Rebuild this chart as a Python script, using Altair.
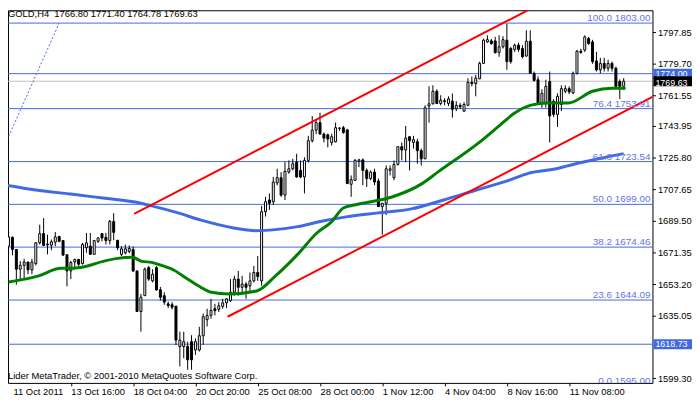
import altair as alt
import pandas as pd

# ---------------- data ----------------
header = "GOLD,H4\u00a0 1766.80 1771.40 1764.78 1769.63"
footer = "Lider MetaTrader, \u00a9 2001-2010 MetaQuotes Software Corp."

o = [1675.0, 1680.1, 1673.1, 1661.8, 1664.0, 1665.9, 1661.4, 1665.0, 1676.9, 1682.2,
     1676.2, 1675.6, 1677.3, 1680.5, 1678.2, 1670.1, 1660.8, 1665.9, 1667.4, 1665.0,
     1674.1, 1675.0, 1670.3, 1677.8, 1682.2, 1680.1, 1678.2, 1689.2, 1678.4, 1670.3,
     1671.2, 1672.0, 1673.1, 1660.8, 1637.5, 1646.6, 1662.7, 1655.1, 1662.7, 1650.0,
     1646.6, 1641.9, 1641.4, 1640.6, 1617.4, 1617.4, 1617.4, 1620.2, 1615.4, 1615.4,
     1623.6, 1632.8, 1635.3, 1639.1, 1638.7, 1640.5, 1642.5, 1643.8, 1648.6, 1656.1,
     1651.4, 1653.3, 1652.3, 1655.1, 1659.9, 1655.1, 1694.8, 1701.5, 1700.5, 1711.3,
     1714.3, 1704.3, 1717.5, 1719.4, 1723.2, 1718.5, 1714.7, 1724.2, 1735.5, 1741.6,
     1745.9, 1739.3, 1738.9, 1734.5, 1734.9, 1742.6, 1743.0, 1741.7, 1710.5, 1712.8,
     1723.7, 1724.5, 1718.5, 1713.8, 1717.5, 1712.4, 1697.7, 1699.6, 1718.5, 1714.3,
     1721.9, 1732.1, 1730.2, 1737.8, 1734.5, 1734.9, 1729.8, 1725.1, 1755.4, 1756.7,
     1763.9, 1756.9, 1758.4, 1756.9, 1758.2, 1753.8, 1755.8, 1752.5, 1755.8, 1769.0,
     1768.3, 1771.1, 1779.9, 1792.2, 1792.8, 1792.8, 1786.2, 1789.4, 1793.2, 1788.4,
     1787.9, 1790.3, 1788.4, 1784.1, 1792.6, 1774.2, 1770.5, 1757.2, 1757.2, 1769.5,
     1758.2, 1750.6, 1756.3, 1763.9, 1765.4, 1762.9, 1774.2, 1786.9, 1787.5, 1794.1,
     1792.2, 1781.3, 1776.2, 1779.9, 1777.1, 1779.9, 1777.1, 1769.5, 1766.80]

h = [1683.9, 1680.5, 1673.1, 1666.5, 1667.8, 1665.9, 1667.8, 1677.3, 1687.3, 1691.1,
     1681.6, 1678.8, 1683.1, 1681.0, 1678.2, 1670.1, 1666.5, 1667.8, 1667.4, 1676.9,
     1682.6, 1682.6, 1678.2, 1680.1, 1682.6, 1682.6, 1690.1, 1693.9, 1678.4, 1675.0,
     1675.9, 1675.4, 1674.8, 1660.8, 1647.6, 1662.7, 1663.6, 1661.8, 1663.6, 1651.6,
     1648.6, 1643.2, 1642.9, 1640.6, 1625.9, 1625.9, 1620.2, 1623.9, 1622.1, 1628.7,
     1636.3, 1639.1, 1644.8, 1641.9, 1642.9, 1644.8, 1645.2, 1656.1, 1658.0, 1660.8,
     1658.0, 1654.4, 1659.9, 1663.6, 1669.3, 1698.1, 1703.3, 1705.3, 1714.7, 1719.4,
     1717.5, 1723.2, 1724.2, 1725.1, 1728.0, 1724.2, 1726.0, 1738.3, 1749.7, 1747.8,
     1751.6, 1740.2, 1739.5, 1739.5, 1745.9, 1743.4, 1744.0, 1742.3, 1715.6, 1725.1,
     1725.1, 1725.3, 1719.6, 1718.5, 1719.4, 1713.8, 1699.6, 1721.3, 1721.3, 1724.2,
     1732.1, 1734.5, 1744.0, 1737.8, 1738.3, 1736.6, 1731.0, 1755.9, 1766.7, 1767.3,
     1765.0, 1761.6, 1759.9, 1761.0, 1762.6, 1758.2, 1757.1, 1757.6, 1771.4, 1772.4,
     1773.3, 1780.9, 1794.1, 1796.0, 1793.9, 1795.1, 1796.0, 1795.5, 1802.6, 1789.4,
     1791.2, 1791.7, 1790.3, 1798.9, 1798.9, 1775.2, 1772.4, 1765.0, 1770.5, 1775.2,
     1759.3, 1762.7, 1767.3, 1767.3, 1766.7, 1775.2, 1787.7, 1788.3, 1796.0, 1795.1,
     1793.4, 1786.5, 1783.1, 1783.1, 1782.0, 1780.9, 1778.0, 1770.7, 1771.40]

l = [1670.3, 1669.7, 1652.9, 1655.1, 1656.1, 1658.9, 1658.9, 1664.0, 1676.0, 1675.0,
     1670.3, 1672.7, 1675.0, 1677.3, 1669.3, 1651.9, 1656.1, 1661.8, 1663.6, 1664.4,
     1671.2, 1670.3, 1670.3, 1676.9, 1677.8, 1676.0, 1676.0, 1678.4, 1672.7, 1669.3,
     1670.3, 1670.9, 1660.1, 1637.2, 1625.9, 1646.6, 1655.1, 1654.2, 1649.5, 1643.8,
     1641.4, 1639.5, 1638.7, 1618.3, 1606.0, 1610.7, 1604.1, 1604.1, 1612.6, 1614.5,
     1618.3, 1628.9, 1633.4, 1635.3, 1637.2, 1639.1, 1639.5, 1642.9, 1646.6, 1646.6,
     1647.6, 1644.8, 1649.5, 1654.2, 1655.1, 1652.3, 1692.0, 1695.8, 1698.6, 1710.0,
     1703.3, 1701.5, 1716.6, 1718.5, 1714.3, 1714.0, 1705.3, 1723.0, 1734.5, 1739.3,
     1739.3, 1734.5, 1731.7, 1732.7, 1734.5, 1741.2, 1739.5, 1710.9, 1703.3, 1712.4,
     1720.4, 1710.0, 1709.0, 1712.8, 1710.0, 1697.7, 1681.6, 1692.9, 1715.6, 1712.8,
     1721.3, 1724.2, 1723.2, 1718.5, 1731.0, 1722.3, 1721.3, 1725.1, 1745.9, 1756.3,
     1756.5, 1755.8, 1755.9, 1755.4, 1748.7, 1752.5, 1753.7, 1751.9, 1755.4, 1766.7,
     1761.0, 1770.7, 1779.6, 1791.7, 1790.5, 1785.6, 1783.7, 1788.4, 1776.2, 1779.7,
     1786.5, 1786.5, 1782.8, 1783.7, 1774.2, 1769.5, 1756.3, 1754.4, 1754.4, 1734.5,
     1749.1, 1743.4, 1752.5, 1762.7, 1762.2, 1762.2, 1773.5, 1785.4, 1786.5, 1790.5,
     1779.7, 1775.2, 1774.1, 1775.2, 1775.2, 1775.2, 1765.7, 1759.4, 1764.78]

c = [1680.3, 1673.1, 1661.8, 1664.0, 1665.9, 1661.4, 1665.9, 1676.9, 1682.2, 1675.4,
     1675.7, 1677.5, 1680.3, 1677.8, 1669.9, 1660.8, 1665.6, 1667.3, 1664.6, 1676.0,
     1676.9, 1670.3, 1678.2, 1679.7, 1679.7, 1678.2, 1689.2, 1682.9, 1674.1, 1673.5,
     1673.5, 1673.7, 1660.8, 1637.5, 1645.7, 1661.8, 1656.1, 1658.9, 1649.9, 1645.7,
     1642.9, 1640.9, 1640.0, 1621.1, 1621.1, 1620.2, 1609.8, 1609.8, 1620.2, 1623.6,
     1634.5, 1635.3, 1638.1, 1638.0, 1640.8, 1642.5, 1644.8, 1648.6, 1656.1, 1651.4,
     1653.3, 1651.4, 1655.1, 1659.9, 1657.6, 1694.8, 1700.5, 1699.6, 1711.8, 1714.3,
     1704.3, 1717.9, 1719.4, 1722.3, 1714.7, 1714.7, 1724.2, 1735.5, 1741.6, 1745.9,
     1739.3, 1737.0, 1736.5, 1737.8, 1743.0, 1742.7, 1740.2, 1710.9, 1713.2, 1724.2,
     1724.5, 1718.5, 1713.8, 1717.5, 1711.8, 1697.7, 1699.6, 1719.4, 1719.4, 1721.9,
     1732.1, 1730.2, 1737.0, 1735.5, 1736.1, 1729.8, 1725.1, 1754.4, 1756.7, 1763.9,
     1756.9, 1758.8, 1758.0, 1759.5, 1753.5, 1755.8, 1755.0, 1756.3, 1769.0, 1768.3,
     1771.4, 1779.9, 1793.2, 1793.5, 1791.3, 1786.0, 1789.4, 1793.5, 1780.9, 1780.9,
     1790.3, 1787.9, 1783.7, 1792.6, 1774.2, 1770.1, 1757.2, 1762.7, 1766.7, 1749.7,
     1750.6, 1761.0, 1765.4, 1765.4, 1763.5, 1774.2, 1786.9, 1786.2, 1795.1, 1791.3,
     1780.9, 1776.2, 1779.9, 1777.1, 1779.9, 1777.1, 1766.7, 1766.7, 1769.63]

green_i = [0, 4.25, 7.5, 13.5, 16, 20, 24.25, 28, 31.75, 34.25, 36.75, 39.25, 42.5, 46,
           49.25, 51.75, 56.75, 63.75, 68.5, 72.5, 74.25, 79.25, 83, 86, 90, 98.5, 106,
           110.5, 120.5, 126, 130, 134.25, 138.5, 143.75, 150, 155, 158.5]
green_v = [1654.4, 1656.1, 1657.8, 1662.3, 1662.3, 1663.5, 1666.3, 1668.0, 1668.6, 1666.3,
           1665.7, 1664.0, 1661.2, 1656.1, 1651.6, 1648.7, 1647.6, 1649.3, 1657.8, 1666.3,
           1670.3, 1682.7, 1689.0, 1696.9, 1699.2, 1703.2, 1710.6, 1717.9, 1733.8, 1744.0,
           1751.4, 1755.9, 1757.1, 1757.1, 1763.9, 1765.6, 1765.6]

blue_i = [-0.25, 7.5, 16, 24.25, 32.5, 36.75, 43.5, 49.25, 57.5, 63.5, 68.5, 74.25, 81,
          86.75, 95, 103.5, 111.75, 120, 128.5, 133.5, 141, 145, 151.75, 158]
blue_v = [1709.9, 1707.1, 1704.9, 1702.6, 1700.3, 1698.1, 1694.1, 1690.1, 1685.6, 1683.9,
          1684.5, 1686.2, 1689.6, 1691.8, 1694.1, 1696.4, 1701.5, 1707.1, 1712.8, 1716.8,
          1719.6, 1721.9, 1725.3, 1728.1]

# channel trend lines (two end points each)
chan_id = ["upper", "upper", "lower", "lower"]
chan_i = [32.25, 136.0, 56.25, 168.0]
chan_v = [1693.5, 1813.4, 1634.5, 1763.7]

# fibonacci base (dotted) line
fbase_i = [-28.5, 13.0]
fbase_v = [1595.0, 1803.0]

fib_values = [1803.00, 1753.91, 1723.54, 1699.00, 1674.46, 1644.09, 1595.00]
fib_text = ["100.0 1803.00", "76.4 1753.91", "61.8 1723.54", "50.0 1699.00",
            "38.2 1674.46", "23.6 1644.09", "0.0 1595.00"]
hlines = [1774.00, 1618.73]
bid = 1769.63

tag_values = [1774.00, 1618.73, 1769.63]
tag_text = ["1774.00", "1618.73", "1769.63"]
tag_color = ["#4169E1", "#4169E1", "#000000"]
tag_shift = [0, 0, 1.5]

y_ticks = [1797.85, 1779.70, 1761.55, 1743.95, 1725.80, 1707.65, 1689.50, 1671.35,
           1653.20, 1635.05, 1599.30]
x_tick_idx = [0, 16, 32, 48, 64, 80, 96, 112, 128, 144]
x_tick_lab = ["11 Oct 2011", "13 Oct 16:00", "18 Oct 04:00", "20 Oct 20:00", "25 Oct 08:00",
              "28 Oct 00:00", "1 Nov 12:00", "4 Nov 04:00", "8 Nov 16:00", "11 Nov 08:00"]

# ---------------- chart ----------------
FONT = "Liberation Sans"
W, H = 652, 377
ROYAL = "#4169E1"

candles = pd.DataFrame({"i": list(range(len(o))), "o": o, "h": h, "l": l, "c": c})
green = pd.DataFrame({"i": green_i, "v": green_v})
blue = pd.DataFrame({"i": blue_i, "v": blue_v})
chan = pd.DataFrame({"id": chan_id, "i": chan_i, "v": chan_v})
fbase = pd.DataFrame({"i": fbase_i, "v": fbase_v})
fibs = pd.DataFrame({"v": fib_values, "t": fib_text})
hl = pd.DataFrame({"v": fib_values + hlines})
bidf = pd.DataFrame({"v": [bid]})
tags = pd.DataFrame({"v": tag_values, "t": tag_text, "col": tag_color, "s": tag_shift})
first_lab = pd.DataFrame({"i": [x_tick_idx[0]], "t": [x_tick_lab[0]]})

xs = alt.Scale(domain=[1.125, 164.125], nice=False, zero=False)
ys = alt.Scale(domain=[1596.54, 1810.37], nice=False, zero=False)

lab_js = "[" + ",".join("'%s'" % s for s in x_tick_lab) + "]"
xaxis = alt.Axis(values=x_tick_idx[1:], labelExpr=lab_js + "[round(datum.value/16)]",
                 title=None, grid=False, domain=False, tickSize=3, tickColor="black",
                 labelAlign="left", labelBaseline="top", labelPadding=1,
                 labelFont=FONT, labelFontSize=9.5, labelColor="black",
                 labelOverlap=False, labelFlush=False, labelBound=False, orient="bottom")
yaxis = alt.Axis(values=y_ticks, format=".2f", title=None, grid=False, domain=False,
                 tickSize=3, tickColor="black", labelPadding=2, labelFont=FONT,
                 labelFontSize=9.5, labelColor="black", labelOverlap=False,
                 labelBaseline="middle", labelFlush=False, labelBound=False, orient="right")


def X(f):
    return alt.X(f, type="quantitative", scale=xs, axis=xaxis)


def Y(f):
    return alt.Y(f, type="quantitative", scale=ys, axis=yaxis)


fib_rules = alt.Chart(hl).mark_rule(color=ROYAL, strokeWidth=1, clip=True).encode(y=Y("v"))
bid_rule = alt.Chart(bidf).mark_rule(color="#C0C0C0", strokeWidth=1, clip=True).encode(y=Y("v"))

fbase_line = alt.Chart(fbase).mark_line(color=ROYAL, strokeWidth=1, strokeDash=[2, 2],
                                        clip=True).encode(x=X("i"), y=Y("v"))

wicks = alt.Chart(candles).mark_rule(color="black", strokeWidth=1, clip=True).encode(
    x=X("i"), y=Y("l"), y2="h")
bodies = alt.Chart(candles).mark_bar(size=2, stroke="black", strokeWidth=1, clip=True).encode(
    x=X("i"), y=Y("o"), y2="c",
    fill=alt.condition("datum.c >= datum.o", alt.value("white"), alt.value("black")))

blue_ma = alt.Chart(blue).mark_line(color=ROYAL, strokeWidth=3, interpolate="monotone",
                                    clip=True).encode(x=X("i"), y=Y("v"))
green_ma = alt.Chart(green).mark_line(color="#008000", strokeWidth=3, interpolate="monotone",
                                      clip=True).encode(x=X("i"), y=Y("v"))
chan_lines = alt.Chart(chan).mark_line(color="#FF0000", strokeWidth=2, clip=True).encode(
    x=X("i"), y=Y("v"), detail="id")

fib_labels = alt.Chart(fibs).mark_text(align="right", baseline="alphabetic", dy=-2,
                                       font=FONT, fontSize=10, color="#6474E4",
                                       clip=True).encode(x=alt.value(650), y=Y("v"), text="t")

tag_layers = []
for k in range(len(tag_values)):
    sub = tags[tags["t"] == tag_text[k]]
    box = alt.Chart(sub).mark_rect(yOffset=-5, y2Offset=5, color=tag_color[k]).encode(
        x=alt.value(653), x2=alt.value(692), y=Y("v"), y2="v")
    txt = alt.Chart(sub).mark_text(align="left", baseline="middle", font=FONT, fontSize=9,
                                   color="white", dy=tag_shift[k]).encode(
        x=alt.value(655), y=Y("v"), text="t")
    tag_layers += [box, txt]

first_label = alt.Chart(first_lab).mark_text(align="left", baseline="top", font=FONT,
                                             fontSize=9.5, color="black", dx=5).encode(
    x=X("i"), y=alt.value(H + 4), text="t")

head = alt.Chart(pd.DataFrame({"t": [header]})).mark_text(
    align="left", baseline="alphabetic", font=FONT, fontSize=9.5, color="black").encode(
    x=alt.value(0), y=alt.value(7), text="t")
foot = alt.Chart(pd.DataFrame({"t": [footer]})).mark_text(
    align="left", baseline="alphabetic", font=FONT, fontSize=9.5, color="black").encode(
    x=alt.value(0), y=alt.value(H - 4), text="t")

chart = alt.layer(
    fib_rules, bid_rule, fbase_line, wicks, bodies, blue_ma, green_ma, chan_lines,
    fib_labels, *tag_layers, first_label, head, foot
).properties(
    width=W, height=H,
    padding={"left": 0, "top": 0, "right": 40, "bottom": 14},
    autosize=alt.AutoSizeParams(type="none"),
    background="white",
).configure_view(stroke="black", strokeWidth=1)

chart.save("out.html", embed_options={"renderer": "svg", "actions": False})
